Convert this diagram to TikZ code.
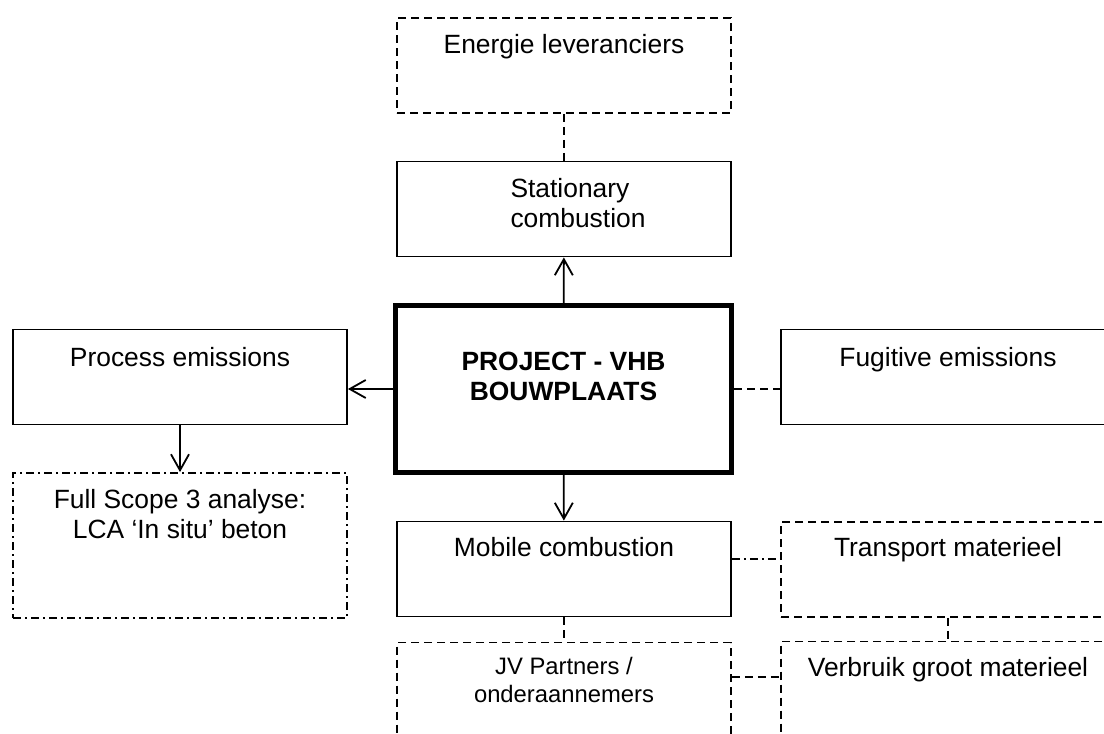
\documentclass[tikz,border=0pt]{standalone}
\usepackage{fontspec}
\setmainfont{Liberation Sans}
\usetikzlibrary{arrows.meta,positioning}

\newcommand*{\boxw}{167pt}
\newcommand*{\boxh}{47.5pt}

\begin{document}
\begin{tikzpicture}
[
	x=0.5pt, y=-0.5pt,
	scopebox/.style={draw,line width=0.9pt,inner sep=0pt,minimum width=\boxw,minimum height=\boxh},
	dashbox/.style={scopebox,dash pattern=on 4pt off 2.5pt},
	dotbox/.style={scopebox,dash pattern=on 4pt off 2pt on 1pt off 2pt},
	boxtext/.style={inner sep=0pt,align=center,font=\fontsize{13.2}{15}\selectfont},
	link/.style={line width=0.9pt,-{Straight Barb[length=8pt,width=9pt]}},
	dashlink/.style={line width=0.9pt,dash pattern=on 4pt off 2.5pt},
	dotlink/.style={line width=0.9pt,dash pattern=on 4pt off 2pt on 1pt off 2pt}
]

	% picture frame
	\clip (0,0) rectangle (1104,734);

	% boxes
	\node[dashbox] (energie) at (564,65.5) {};
	\node[scopebox] (stat) at (564,209) {};
	\node[scopebox,line width=2.5pt,minimum width=168pt,minimum height=83.5pt] (project) at (563.5,389) {};
	\node[scopebox] (process) at (180,377) {};
	\node[scopebox] (fugitive) at (948,377) {};
	\node[dotbox,minimum height=72.5pt] (fullscope) at (180,545.5) {};
	\node[scopebox] (mobile) at (564,569) {};
	\node[dashbox] (transport) at (948,569.5) {};
	\node[dashbox] (jv) at (564,690) {};
	\node[dashbox] (verbruik) at (948,689) {};

	% texts
	\node[boxtext,below=8.5pt of energie.north] (energie-txt) {Energie leveranciers};
	\node[boxtext,align=left,xshift=7pt,below=8.5pt of stat.north] (stat-txt) {Stationary\\combustion};
	\node[boxtext,font=\fontsize{13.2}{15}\selectfont\bfseries,below=24.5pt of project.north] (project-txt) {PROJECT - VHB\\BOUWPLAATS};
	\node[boxtext,below=9pt of process.north] (process-txt) {Process emissions};
	\node[boxtext,below=9pt of fugitive.north] (fugitive-txt) {Fugitive emissions};
	\node[boxtext,below=8.5pt of fullscope.north] (fullscope-txt) {Full Scope 3 analyse:\\LCA `In situ' beton};
	\node[boxtext,below=8pt of mobile.north] (mobile-txt) {Mobile combustion};
	\node[boxtext,below=8pt of transport.north] (transport-txt) {Transport materieel};
	\node[boxtext,font=\fontsize{11.9}{14}\selectfont,below=7.5pt of jv.north] (jv-txt) {JV Partners /\\onderaannemers};
	\node[boxtext,below=8pt of verbruik.north] (verbruik-txt) {Verbruik groot materieel};

	% connectors
	\draw[dashlink] (energie) -- (stat);
	\draw[link] (project) -- (stat);
	\draw[link] (project.west) -- (project.west -| process.east);
	\draw[dashlink] (project.east) -- (project.east -| fugitive.west);
	\draw[link] (process) -- (fullscope);
	\draw[link] (project) -- (mobile);
	\draw[dotlink] ([yshift=5pt]mobile.east) -- ([yshift=5pt]mobile.east -| transport.west);
	\draw[dashlink] (mobile) -- (jv);
	\draw[dashlink] (transport) -- (verbruik);
	\draw[dashlink] ([yshift=6.5pt]jv.east) -- ([yshift=6.5pt]jv.east -| verbruik.west);

\end{tikzpicture}
\end{document}
